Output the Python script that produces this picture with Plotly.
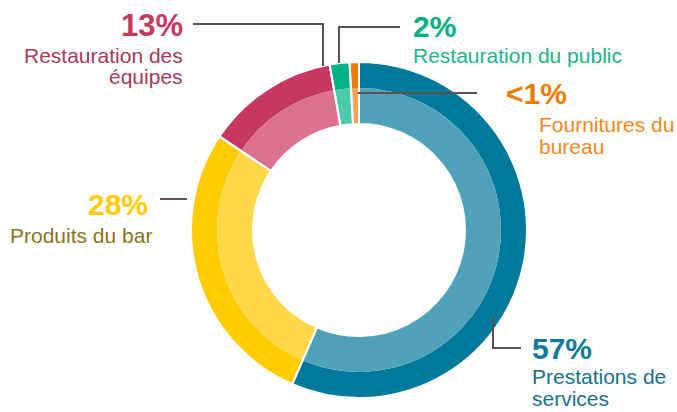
import plotly.graph_objects as go

# ---- data ----
categories = ["Prestations de services", "Produits du bar", "Restauration des équipes",
              "Restauration du public", "Fournitures du bureau"]
values = [56.5, 27.9, 12.8, 1.9, 0.9]
pct_labels = ["57%", "28%", "13%", "2%", "<1%"]

outer_colors = ["#00799A", "#FFCC00", "#C83762", "#00B386", "#EC7C00"]
inner_colors = ["#4FA2BA", "#FFD84A", "#D97391", "#4CCBAA", "#F2A155"]

W, H = 677, 412
cx, cy = 359, 230
R_out, R_mid, R_hole = 168, 142, 106


def dom(r):
    return dict(x=[(cx - r) / W, (cx + r) / W],
                y=[(H - cy - r) / H, (H - cy + r) / H])


common = dict(labels=categories, values=values, sort=False, direction="clockwise",
              rotation=0, textinfo="none", hoverinfo="label+percent", showlegend=False)

fig = go.Figure()
fig.add_trace(go.Pie(**common, domain=dom(R_out), hole=R_mid / R_out,
                     marker=dict(colors=outer_colors, line=dict(width=0))))
fig.add_trace(go.Pie(**common, domain=dom(R_mid), hole=R_hole / R_mid,
                     marker=dict(colors=inner_colors, line=dict(width=0))))
# white separators overlay
fig.add_trace(go.Pie(**common, domain=dom(R_out), hole=R_hole / R_out,
                     marker=dict(colors=["rgba(0,0,0,0)"] * len(values),
                                 line=dict(color="white", width=2))))

FONT = "Liberation Sans, Arial, sans-serif"


def ann(text, x, baseline, size, color, bold=False, anchor="left"):
    y_mid = baseline - 0.35 * size
    t = f"<b>{text}</b>" if bold else text
    fig.add_annotation(x=x, y=y_mid, xref="x", yref="y", text=t, showarrow=False,
                       xanchor=anchor, yanchor="middle", borderpad=0,
                       font=dict(family=FONT, size=size, color=color))


BIG, SMALL = 30, 21
# 13% Restauration des équipes
ann(pct_labels[2], 184, 36, 31, "#C8385F", True, "right")
ann("Restauration des", 184, 63, SMALL, "#A63A5D", False, "right")
ann("équipes", 184, 84, SMALL, "#A63A5D", False, "right")
# 2% Restauration du public
ann(pct_labels[3], 412, 37, BIG, "#00B085", True)
ann("Restauration du public", 412, 63, SMALL, "#1CB48A")
# <1% Fournitures du bureau
ann(pct_labels[4], 505, 104, BIG, "#EC7C00", True)
ann("Fournitures du", 538, 132, SMALL, "#EE8A1C")
ann("bureau", 538, 154, SMALL, "#EE8A1C")
# 28% Produits du bar
ann(pct_labels[1], 149, 215, BIG, "#FFCC00", True, "right")
ann("Produits du bar", 153, 243, SMALL, "#8A7418", False, "right")
# 57% Prestations de services
ann(pct_labels[0], 531, 359, BIG, "#0E7A9A", True)
ann("Prestations de", 531, 384, SMALL, "#18708C")
ann("services", 531, 406, SMALL, "#18708C")

LINE = dict(color="#5B5250", width=2)
leaders = [
    "M193,24 H323 V66",
    "M400,27 H339 V63",
    "M358,93 H477",
    "M160,199 H187",
    "M493,316 V348 H521",
]
for p in leaders:
    fig.add_shape(type="path", path=p, xref="x", yref="y", line=LINE, layer="above")

fig.update_layout(
    width=W, height=H,
    margin=dict(l=0, r=0, t=0, b=0),
    paper_bgcolor="white", plot_bgcolor="rgba(0,0,0,0)",
    xaxis=dict(range=[0, W], visible=False, fixedrange=True),
    yaxis=dict(range=[H, 0], visible=False, fixedrange=True),
)

fig.write_html("out.html",
               config={"displayModeBar": False},
               post_script="document.body.style.margin='0';document.body.style.overflow='hidden';")
